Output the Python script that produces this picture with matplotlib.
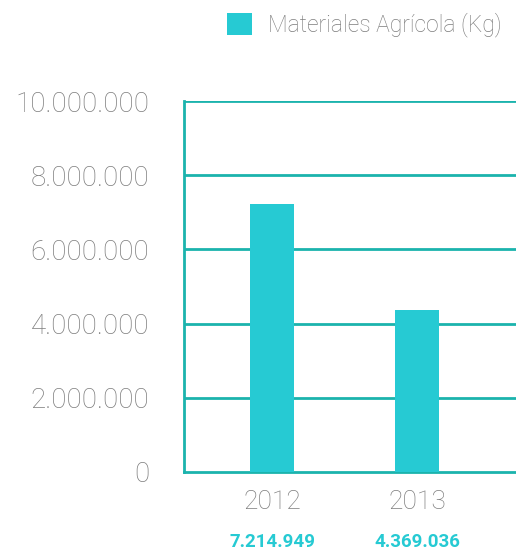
import matplotlib
matplotlib.use("Agg")
import matplotlib.pyplot as plt
from matplotlib.patches import Patch

years = ["2012", "2013"]
values = [7214949, 4369036]
value_labels = ["7.214.949", "4.369.036"]
yticks = [0, 2000000, 4000000, 6000000, 8000000, 10000000]
ytick_labels = ["0", "2.000.000", "4.000.000", "6.000.000", "8.000.000", "10.000.000"]
series_name = "Materiales Agrícola (Kg)"

bar_color = "#26cad3"
grid_color = "#1bb3ad"
text_grey = "#7d7d7d"

W, H = 516, 553
fig = plt.figure(figsize=(W / 100, H / 100), dpi=100)
ax = fig.add_axes([184 / W, 1 - 472 / H, (516 - 184) / W, (472 - 101) / H])

x = list(range(len(years)))
ax.bar(x, values, width=0.30, color=bar_color, zorder=3)
ax.set_xlim(-0.607, 1.683)
ax.set_ylim(0, 10000000)

ax.set_yticks(yticks)
ax.set_yticklabels(ytick_labels, family="Roboto", fontweight="light", fontsize=20, color=text_grey)
ax.tick_params(axis="y", length=0, pad=25)
ax.set_xticks(x)
ax.set_xticklabels(years, family="Roboto", fontweight="light", fontsize=19, color=text_grey)
ax.tick_params(axis="x", length=0, pad=13)

for v in yticks[1:]:
    ax.axhline(v, color=grid_color, lw=2, zorder=2)
for s in ["top", "right"]:
    ax.spines[s].set_visible(False)
ax.spines["left"].set_color(grid_color)
ax.spines["left"].set_linewidth(2)
ax.spines["bottom"].set_color(grid_color)
ax.spines["bottom"].set_linewidth(2)

for xi, lab in zip(x, value_labels):
    ax.annotate(lab, xy=(xi, 0), xycoords="data", xytext=(0, -50.5), textcoords="offset points",
                ha="center", va="center", family="Roboto", fontweight="bold",
                fontsize=13.5, color=bar_color, annotation_clip=False)

handles = [Patch(facecolor=bar_color, edgecolor="none", label=series_name)]
leg = fig.legend(handles=handles, loc="center right", bbox_to_anchor=(502 / W, 1 - 25 / H),
                 frameon=False, handlelength=1.1, handleheight=1.1, handletextpad=0.7,
                 borderaxespad=0, borderpad=0,
                 prop={"family": "Roboto", "weight": "light", "size": 16.5})
for t in leg.get_texts():
    t.set_color(text_grey)

fig.savefig("out.png", dpi=100)
